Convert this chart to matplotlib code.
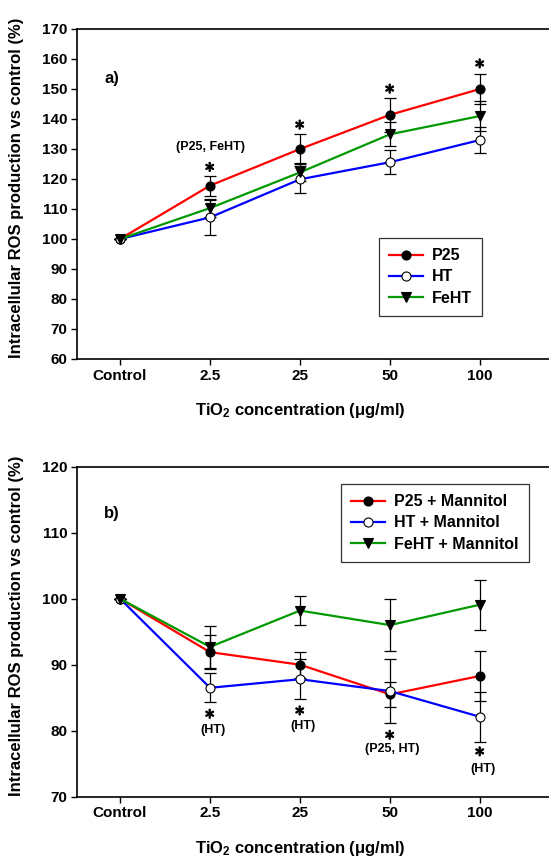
import matplotlib
matplotlib.use('Agg')
import matplotlib.pyplot as plt
from matplotlib import patheffects

plt.rcParams['font.family'] = ['Liberation Sans', 'DejaVu Sans']
plt.rcParams['font.weight'] = 'bold'
plt.rcParams['mathtext.fontset'] = 'custom'
plt.rcParams['mathtext.rm'] = 'Liberation Sans:bold'
plt.rcParams['mathtext.bf'] = 'Liberation Sans:bold'
plt.rcParams['mathtext.default'] = 'bf'

# ---- data ----
categories = ['Control', '2.5', '25', '50', '100']

a_p25 = [100, 117.8, 130.0, 141.4, 150.0]
a_p25_err = [0, 3.3, 5.0, 5.6, 5.0]
a_ht = [100, 107.2, 119.9, 125.6, 133.0]
a_ht_err = [0, 5.7, 4.6, 4.0, 4.2]
a_feht = [100, 110.3, 122.2, 134.9, 141.0]
a_feht_err = [0, 3.0, 3.0, 4.0, 5.0]

b_p25 = [100, 91.9, 90.0, 85.5, 88.3]
b_p25_err = [0, 2.6, 2.0, 1.9, 3.8]
b_ht = [100, 86.5, 87.8, 86.0, 82.1]
b_ht_err = [0, 2.2, 3.0, 4.8, 3.8]
b_feht = [100, 92.7, 98.2, 96.0, 99.1]
b_feht_err = [0, 3.2, 2.2, 3.9, 3.8]

a_labels = ['P25', 'HT', 'FeHT']
b_labels = ['P25 + Mannitol', 'HT + Mannitol', 'FeHT + Mannitol']

# significance marks: (x index, y of asterisk, text, y of text)
a_marks = [(1, 124.1, '(P25, FeHT)', 130.6), (2, 138.2, '', 0), (3, 150.2, '', 0), (4, 158.6, '', 0)]
b_marks = [(1, 82.6, '(HT)', 80.1), (2, 83.1, '(HT)', 80.7), (3, 79.4, '(P25, HT)', 77.3), (4, 76.9, '(HT)', 74.2)]

W, H = 549, 861
fig = plt.figure(figsize=(W / 100, H / 100), dpi=100)

ax_w = 484 / W
ax1 = fig.add_axes([77 / W, 1 - 359 / H, ax_w, 330 / H])
ax2 = fig.add_axes([77 / W, 1 - 796.7 / H, ax_w, 330 / H])

x = list(range(len(categories)))
colors = ['#ff0000', '#0000ff', '#009900']
star_fx = [patheffects.withStroke(linewidth=0.9, foreground='black')]


def draw(ax, series, errs, labels):
    styles = [dict(marker='o', mfc='black', mec='black'),
              dict(marker='o', mfc='white', mec='black'),
              dict(marker='v', mfc='black', mec='black')]
    for y, e, c, lab, st in zip(series, errs, colors, labels, styles):
        ax.errorbar(x, y, yerr=e, fmt='none', ecolor='black', elinewidth=0.9,
                    capsize=4.5, capthick=0.9, zorder=2)
        ax.plot(x, y, color=c, lw=1.6, ms=6.5, mew=0.8, label=lab, zorder=3, **st)


draw(ax1, [a_p25, a_ht, a_feht], [a_p25_err, a_ht_err, a_feht_err], a_labels)
draw(ax2, [b_p25, b_ht, b_feht], [b_p25_err, b_ht_err, b_feht_err], b_labels)

for i, ys, t, yt in a_marks:
    ax1.text(i, ys, r'$\ast$', ha='center', va='center', fontsize=15, path_effects=star_fx)
    if t:
        ax1.text(i, yt, t, ha='center', va='center', fontsize=9)
for i, ys, t, yt in b_marks:
    ax2.text(i, ys, r'$\ast$', ha='center', va='center', fontsize=15, path_effects=star_fx)
    ax2.text(i + 0.03, yt, t, ha='center', va='center', fontsize=9)

ax1.set_ylim(60, 170)
ax1.set_yticks(range(60, 171, 10))
ax2.set_ylim(70, 120)
ax2.set_yticks(range(70, 121, 10))

for ax in (ax1, ax2):
    ax.set_xlim(-0.478, 4.9)
    ax.set_xticks(x)
    ax.set_xticklabels(categories)
    ax.tick_params(direction='out', length=4, width=1, labelsize=11, pad=3, axis='x')
    ax.tick_params(direction='out', length=4, width=1, labelsize=11, pad=3, axis='y')
    ax.tick_params(top=False, right=False)
    for s in ax.spines.values():
        s.set_linewidth(1.2)
    ax.set_xlabel(r'TiO$_{2}$ concentration (μg/ml)', fontsize=12, fontweight='bold')
    ax.xaxis.set_label_coords((300 - 77) / 484, -0.128)
    ax.set_ylabel('Intracellular ROS production vs control (%)', fontsize=12, fontweight='bold')
    ax.yaxis.set_label_coords((24 - 77) / 484, 0.518)

ax1.text(-0.09, 153.4, 'a)', ha='center', va='center', fontsize=12)
ax2.text(-0.09, 112.9, 'b)', ha='center', va='center', fontsize=12)

leg_kw = dict(fontsize=11.5, frameon=True, fancybox=False, edgecolor='black',
              handlelength=2.1, borderpad=0.65, labelspacing=0.38, handletextpad=0.55,
              borderaxespad=0)
leg1 = ax1.legend(loc='upper left', bbox_to_anchor=((379 - 77) / 484, (359 - 238) / 330), **leg_kw)
leg1.get_frame().set_linewidth(0.9)
leg2 = ax2.legend(loc='upper left', bbox_to_anchor=((341 - 77) / 484, (796.7 - 484) / 330), **leg_kw)
leg2.get_frame().set_linewidth(0.9)

fig.savefig('out.png', dpi=100)
